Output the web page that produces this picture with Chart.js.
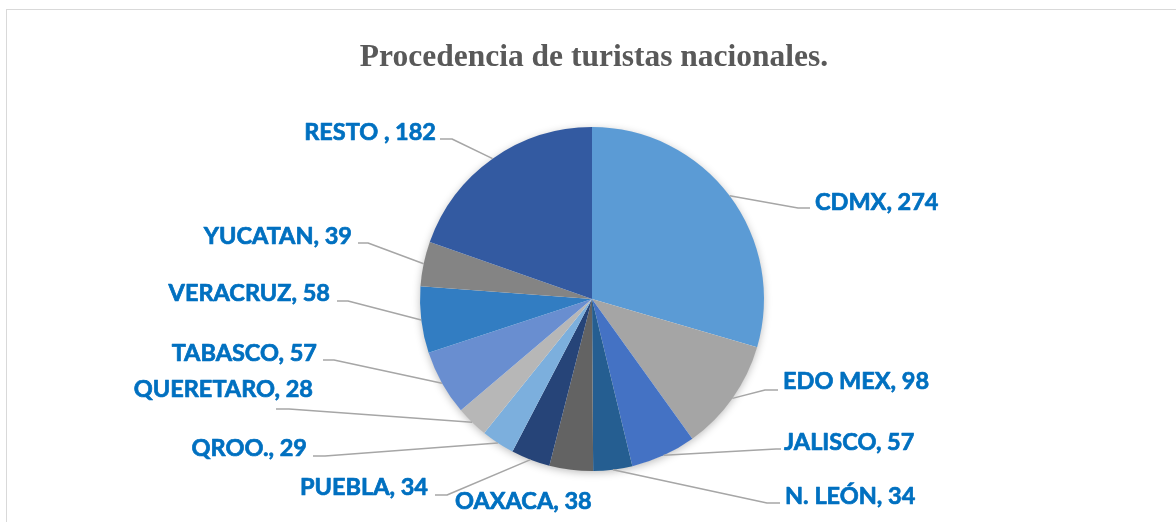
<!DOCTYPE html>
<html>
<head>
<meta charset="utf-8">
<script src="https://cdn.jsdelivr.net/npm/chart.js@4/dist/chart.umd.min.js"></script>
<style>
  html, body { margin: 0; padding: 0; background: #ffffff; }
  #wrap { width: 1176px; height: 522px; position: relative; }
</style>
</head>
<body>
<div id="wrap"><canvas id="c" width="1176" height="522"></canvas></div>
<script>
// ---- data ----
const categories = ["CDMX", "EDO MEX", "JALISCO", "N. LEÓN", "OAXACA", "PUEBLA", "QROO.", "QUERETARO", "TABASCO", "VERACRUZ", "YUCATAN", "RESTO "];
const values = [274, 98, 57, 34, 38, 34, 29, 28, 57, 58, 39, 182];
const sliceColors = ["#5B9BD5", "#A5A5A5", "#4472C4", "#255E91", "#636363", "#264478", "#7CAFDD", "#B7B7B7", "#698ED0", "#327DC2", "#848484", "#335AA1"];
const titleText = "Procedencia de turistas nacionales.";

// ---- label layout (text anchor + leader elbow/end), pixels ----
const labelLayout = [
  { x: 815, y: 210, align: "left",  elbow: [798, 208], end: [810, 208] },
  { x: 783, y: 389, align: "left",  elbow: [765, 390], end: [778, 390] },
  { x: 784, y: 450, align: "left",  elbow: [776, 449], end: [781, 449] },
  { x: 785, y: 504, align: "left",  elbow: [767, 503], end: [780, 503] },
  { x: 455, y: 509, align: "left",  elbow: null, end: null },
  { x: 428, y: 495, align: "right", elbow: [447, 495], end: [435, 495] },
  { x: 307, y: 456, align: "right", elbow: [325, 456], end: [313, 456] },
  { x: 313, y: 397, align: "right", elbow: [289, 409], end: [276, 409] },
  { x: 317, y: 361, align: "right", elbow: [334, 360], end: [323, 360] },
  { x: 330, y: 301, align: "right", elbow: [348, 301], end: [337, 301] },
  { x: 352, y: 244, align: "right", elbow: [368, 243], end: [358, 243] },
  { x: 436, y: 140, align: "right", elbow: [452, 139], end: [440, 139] }
];

const framePlugin = {
  id: "frame",
  beforeDraw(chart) {
    const ctx = chart.ctx;
    ctx.save();
    ctx.fillStyle = "#ffffff";
    ctx.fillRect(0, 0, chart.width, chart.height);
    ctx.strokeStyle = "#D9D9D9";
    ctx.lineWidth = 1;
    ctx.strokeRect(6.5, 9.5, chart.width + 20, chart.height + 20);
    // title
    ctx.fillStyle = "#595959";
    ctx.font = "bold 31.5px 'Liberation Serif', serif";
    ctx.textAlign = "center";
    ctx.textBaseline = "alphabetic";
    ctx.fillText(titleText, 594, 66);
    ctx.restore();
  },
  beforeDatasetsDraw(chart) {
    const meta = chart.getDatasetMeta(0);
    const a = meta.data[0];
    if (!a) return;
    const ctx = chart.ctx;
    ctx.save();
    ctx.shadowColor = "rgba(0,0,0,0.28)";
    ctx.shadowBlur = 9;
    ctx.shadowOffsetX = 0;
    ctx.shadowOffsetY = 2;
    ctx.fillStyle = "#ffffff";
    ctx.beginPath();
    ctx.arc(a.x, a.y, a.outerRadius - 0.5, 0, Math.PI * 2);
    ctx.fill();
    ctx.restore();
  },
  afterDatasetsDraw(chart) {
    const meta = chart.getDatasetMeta(0);
    const ctx = chart.ctx;
    ctx.save();
    meta.data.forEach((arc, i) => {
      const L = labelLayout[i];
      const mid = (arc.startAngle + arc.endAngle) / 2;
      const px = arc.x + Math.cos(mid) * arc.outerRadius;
      const py = arc.y + Math.sin(mid) * arc.outerRadius;
      if (L.elbow) {
        ctx.strokeStyle = "#A6A6A6";
        ctx.lineWidth = 1.5;
        ctx.beginPath();
        ctx.moveTo(px, py);
        ctx.lineTo(L.elbow[0], L.elbow[1]);
        ctx.lineTo(L.end[0], L.end[1]);
        ctx.stroke();
      }
      const txt = categories[i] + ", " + values[i];
      ctx.fillStyle = "#0070C0";
      ctx.strokeStyle = "#0070C0";
      ctx.lineWidth = 0.7;
      ctx.lineJoin = "round";
      ctx.font = "bold 23.5px Lato, 'Open Sans', sans-serif";
      ctx.textAlign = L.align;
      ctx.textBaseline = "alphabetic";
      ctx.fillText(txt, L.x, L.y);
      ctx.strokeText(txt, L.x, L.y);
    });
    ctx.restore();
  }
};

new Chart(document.getElementById("c"), {
  type: "pie",
  data: {
    labels: categories,
    datasets: [{
      data: values,
      backgroundColor: sliceColors,
      borderWidth: 0,
      borderColor: "rgba(0,0,0,0)"
    }]
  },
  options: {
    responsive: false,
    animation: false,
    layout: { padding: { left: 420, right: 412, top: 127, bottom: 51 } },
    plugins: {
      legend: { display: false },
      tooltip: { enabled: false },
      title: { display: false }
    }
  },
  plugins: [framePlugin]
});
</script>
</body>
</html>
